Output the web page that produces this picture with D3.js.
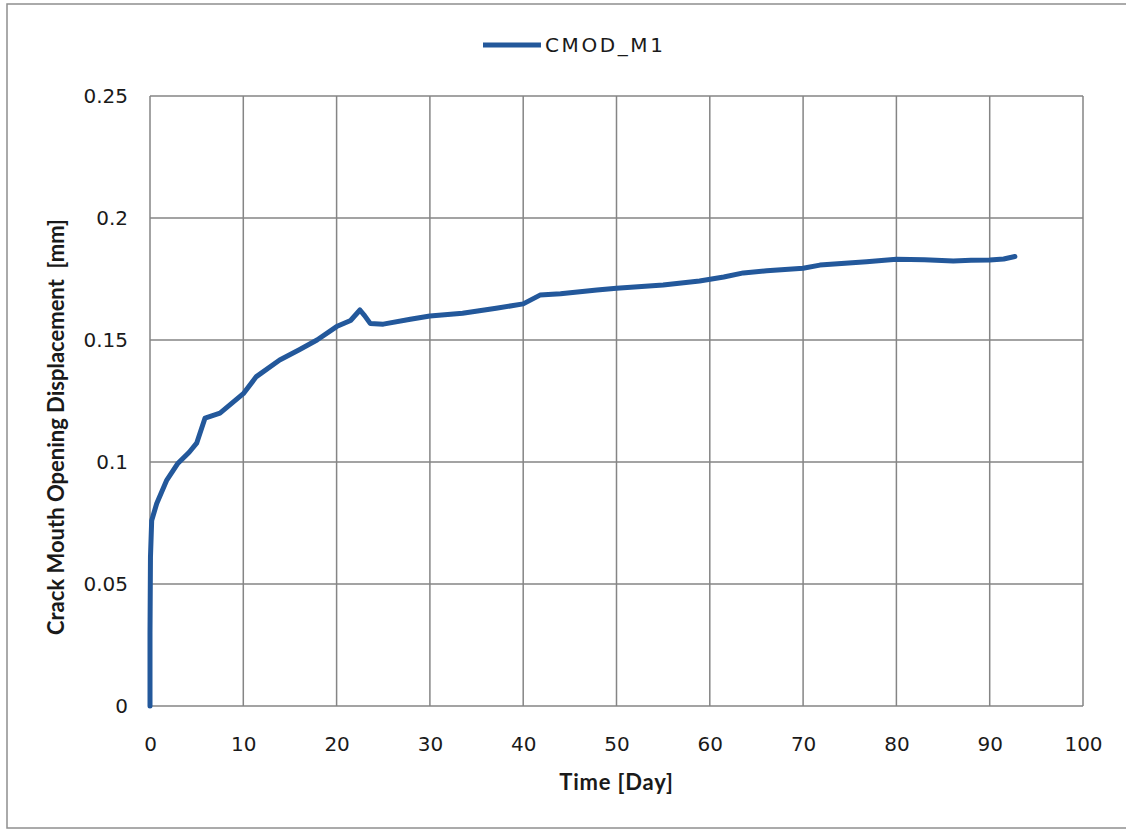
<!DOCTYPE html>
<html>
<head>
<meta charset="utf-8">
<script src="https://cdn.jsdelivr.net/npm/d3@7"></script>
<style>
  html, body { margin: 0; padding: 0; background: #fff; }
  svg { display: block; }
</style>
</head>
<body>
<svg id="chart" width="1126" height="830"></svg>
<script>
// Crack mouth opening displacement over time, specimen M1
const seriesName = "CMOD_M1";
const timeDays = [0, 0, 0.05, 0.18, 0.72, 1.8, 3.0, 4.2, 5.0, 5.9, 7.5, 10, 11.4, 13.9, 16.0, 17.9, 20, 21.5, 22.5, 23.0, 23.6, 25.0, 27.9, 30, 33.5, 37.1, 40, 41.8, 44.0, 47.9, 50, 55, 58.9, 61.5, 63.6, 66.1, 70, 71.8, 76.8, 80, 83.0, 86.1, 88.0, 90, 91.5, 92.7];
const cmodMm = [0, 0.03, 0.061, 0.076, 0.083, 0.0926, 0.0995, 0.104, 0.1077, 0.118, 0.120, 0.128, 0.135, 0.1418, 0.146, 0.150, 0.1555, 0.158, 0.1623, 0.160, 0.1568, 0.1565, 0.1585, 0.1598, 0.161, 0.163, 0.1648, 0.1684, 0.169, 0.1705, 0.1712, 0.1725, 0.1742, 0.1758, 0.1775, 0.1784, 0.1794, 0.1807, 0.1821, 0.1831, 0.1829, 0.1824, 0.1827, 0.1828, 0.1832, 0.1842];
const xTicks = [0, 10, 20, 30, 40, 50, 60, 70, 80, 90, 100];
const yTicks = [0, 0.05, 0.1, 0.15, 0.2, 0.25];
const xTitle = "Time [Day]";
const yTitle = "Crack Mouth Opening Displacement\u00a0\u00a0[mm]";

const svg = d3.select("#chart");
const plot = { left: 150, top: 96, right: 1083, bottom: 706 };

const x = d3.scaleLinear().domain([0, 100]).range([plot.left, plot.right]);
const y = d3.scaleLinear().domain([0, 0.25]).range([plot.bottom, plot.top]);

const gridColor = "#858585";
const lineColor = "#23589b";
const tickFont = "'DejaVu Sans', Verdana, sans-serif";
const titleFont = "Lato, 'Open Sans', sans-serif";

// outer chart frame
svg.append("rect")
  .attr("x", 7).attr("y", 4)
  .attr("width", 1130).attr("height", 824)
  .attr("fill", "none")
  .attr("stroke", "#8f8f8f")
  .attr("stroke-width", 1.5);

// gridlines
const grid = svg.append("g");
grid.selectAll("line.v").data(xTicks).join("line")
  .attr("x1", d => x(d)).attr("x2", d => x(d))
  .attr("y1", plot.top).attr("y2", plot.bottom)
  .attr("stroke", gridColor).attr("stroke-width", 1.5);
grid.selectAll("line.h").data(yTicks).join("line")
  .attr("x1", plot.left).attr("x2", plot.right)
  .attr("y1", d => y(d)).attr("y2", d => y(d))
  .attr("stroke", gridColor).attr("stroke-width", 1.5);

// axes (labels only; gridlines act as ticks)
const xAxis = svg.append("g")
  .attr("transform", `translate(0,${plot.bottom})`)
  .call(d3.axisBottom(x).tickValues(xTicks).tickSize(0).tickPadding(31).tickFormat(d3.format("d")));
const yAxis = svg.append("g")
  .attr("transform", `translate(${plot.left},0)`)
  .call(d3.axisLeft(y).tickValues(yTicks).tickSize(0).tickPadding(22).tickFormat(d => d === 0 ? "0" : String(d)));
[xAxis, yAxis].forEach(g => {
  g.select(".domain").remove();
  g.selectAll("text")
    .attr("font-family", tickFont)
    .attr("font-size", 20)
    .attr("fill", "#1a1a1a");
});

// data line
const line = d3.line().x((d, i) => x(timeDays[i])).y(d => y(d));
svg.append("path")
  .datum(cmodMm)
  .attr("d", line)
  .attr("fill", "none")
  .attr("stroke", lineColor)
  .attr("stroke-width", 5)
  .attr("stroke-linejoin", "round")
  .attr("stroke-linecap", "round");

// axis titles
svg.append("text")
  .attr("x", (plot.left + plot.right) / 2)
  .attr("y", 790)
  .attr("text-anchor", "middle")
  .attr("font-family", titleFont)
  .attr("font-weight", "bold")
  .attr("font-size", 22)
  .attr("letter-spacing", 0.8)
  .attr("fill", "#1a1a1a")
  .text(xTitle);

svg.append("text")
  .attr("transform", `translate(64,${427}) rotate(-90)`)
  .attr("text-anchor", "middle")
  .attr("font-family", titleFont)
  .attr("font-weight", "bold")
  .attr("font-size", 22)
  .attr("fill", "#1a1a1a")
  .text(yTitle);

// legend
const legend = svg.append("g").attr("transform", "translate(483,45)");
legend.append("line")
  .attr("x1", 0).attr("x2", 58).attr("y1", 0).attr("y2", 0)
  .attr("stroke", lineColor).attr("stroke-width", 5);
legend.append("text")
  .attr("x", 62).attr("y", 7)
  .attr("font-family", tickFont)
  .attr("font-size", 20)
  .attr("letter-spacing", 2.6)
  .attr("fill", "#1a1a1a")
  .text(seriesName);
</script>
</body>
</html>
